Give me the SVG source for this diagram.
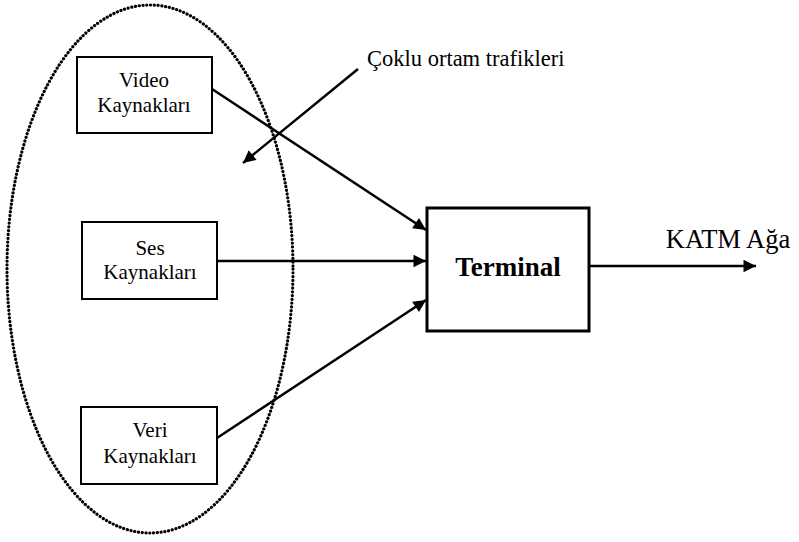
<svg xmlns="http://www.w3.org/2000/svg" width="799" height="542" viewBox="0 0 799 542">
  <style>
    .box { fill: #fff; stroke: #000; stroke-width: 2; }
    .term { fill: #fff; stroke: #000; stroke-width: 3; }
    .lbl { font-family: "Liberation Serif", "Times New Roman", serif; font-size: 21px; fill: #000; text-anchor: middle; }
    .edge { stroke: #000; stroke-width: 2.5; fill: none; marker-end: url(#arrow); }
  </style>
  <defs>
    <marker id="arrow" viewBox="0 0 10 10" refX="10" refY="5" markerWidth="6.5" markerHeight="5" markerUnits="strokeWidth" orient="auto">
      <path d="M0,0 L10,5 L0,10 z" fill="#000"/>
    </marker>
  </defs>
  <rect width="799" height="542" fill="#fff"/>

  <!-- dotted grouping of the traffic sources -->
  <ellipse id="group" cx="150" cy="269" rx="143" ry="264" fill="none" stroke="#000" stroke-width="3.2" stroke-dasharray="0.1 3.7" stroke-linecap="round"/>

  <g id="connectors">
    <line class="edge" x1="212" y1="89" x2="426" y2="230"/>
    <line class="edge" x1="217" y1="261" x2="426" y2="261"/>
    <line class="edge" x1="217" y1="438" x2="426" y2="300"/>
    <line class="edge" x1="589" y1="266" x2="756" y2="266"/>
    <line class="edge" x1="358" y1="69" x2="243" y2="163"/>
  </g>

  <g id="video">
    <rect class="box" x="77" y="57" width="135" height="76"/>
    <text class="lbl" x="144" y="87">Video</text>
    <text class="lbl" x="144" y="112">Kaynakları</text>
  </g>
  <g id="ses">
    <rect class="box" x="82" y="222" width="135" height="77"/>
    <text class="lbl" x="150" y="255">Ses</text>
    <text class="lbl" x="150" y="279">Kaynakları</text>
  </g>
  <g id="veri">
    <rect class="box" x="81" y="407" width="136" height="77"/>
    <text class="lbl" x="150" y="437">Veri</text>
    <text class="lbl" x="150" y="463">Kaynakları</text>
  </g>
  <g id="terminal">
    <rect class="term" x="427" y="208" width="162" height="123"/>
    <text class="lbl" x="508" y="276" style="font-weight:bold;font-size:27px">Terminal</text>
  </g>
  <g id="katm">
    <text class="lbl" x="728" y="248" style="font-size:26.5px">KATM Ağa</text>
  </g>
  <g id="coklu">
    <text class="lbl" x="367" y="66" style="text-anchor:start;font-size:22.5px">Çoklu ortam trafikleri</text>
  </g>
</svg>
